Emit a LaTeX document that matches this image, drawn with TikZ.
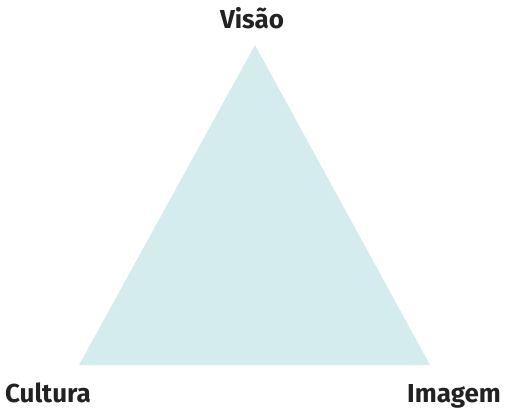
\documentclass[tikz,border=0pt]{standalone}
\usepackage{fontspec}
\setmainfont{Fira Sans}
\definecolor{tri}{HTML}{D4ECEE}
\definecolor{txt}{HTML}{222222}
\begin{document}
\begin{tikzpicture}[x=1pt,y=-1pt,
  lbl/.style={font=\bfseries\fontsize{26}{30}\selectfont, text=txt, inner sep=0pt, anchor=base}]
\useasboundingbox (0,0) rectangle (506,412);
\coordinate (A) at (255,45);
\coordinate (B) at (79,365);
\coordinate (C) at (430,365);
\fill[tri] (A) -- (B) -- (C) -- cycle;
\node[lbl] (v) at (252,29) {Visão};
\node[lbl] (c) at (48,402) {Cultura};
\node[lbl] (i) at (454,402) {Imagem};
\end{tikzpicture}
\end{document}
